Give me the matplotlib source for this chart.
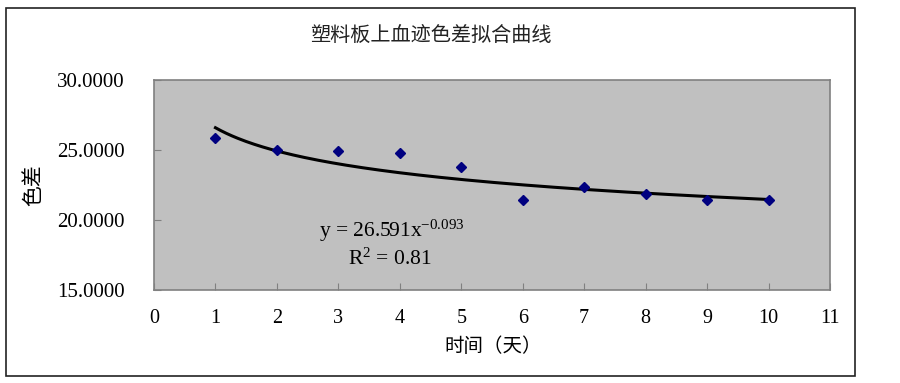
import numpy as np
import matplotlib
matplotlib.use('Agg')
import matplotlib.pyplot as plt
from matplotlib.patches import Rectangle
from matplotlib.ticker import FormatStrFormatter

# データ
days = [1, 2, 3, 4, 5, 6, 7, 8, 9, 10]
color_diff = [25.86, 25.0, 24.92, 24.82, 23.78, 21.42, 22.35, 21.86, 21.42, 21.42]
x_ticks = [0, 1, 2, 3, 4, 5, 6, 7, 8, 9, 10, 11]
y_ticks = [15, 20, 25, 30]

# トレンドライン (累乗近似) の係数
fit_a = 26.591
fit_b = -0.093
fit_r2 = 0.81

title = '塑料板上血迹色差拟合曲线'
xlabel = '时间（天）'
ylabel = '色差'

plt.rcParams['mathtext.fontset'] = 'custom'
plt.rcParams['mathtext.rm'] = 'Liberation Serif'
plt.rcParams['mathtext.it'] = 'Liberation Serif'

cjk = ['Noto Sans CJK SC', 'DejaVu Sans']
serif = 'Liberation Serif'
W, H = 900, 383


def main():
    fig = plt.figure(figsize=(W / 100, H / 100), dpi=100)
    ax = fig.add_axes([154 / W, 1 - 290 / H, 676 / W, 210 / H])
    ax.set_facecolor('#C0C0C0')

    # 外枠
    fig.patches.append(Rectangle((6 / W, 1 - 376 / H), 849 / W, 368 / H,
                                 transform=fig.transFigure, fill=False,
                                 edgecolor='#222222', linewidth=1.2))

    # 近似曲線
    xs = np.linspace(days[0], days[-1], 200)
    ax.plot(xs, fit_a * xs ** fit_b, color='black', linewidth=2.2, zorder=2)
    ax.plot(days, color_diff, linestyle='none', marker='D', markersize=5,
            color='#000080', zorder=3)

    ax.set_xlim(0, 11)
    ax.set_ylim(15, 30)
    ax.set_xticks(x_ticks)
    ax.set_yticks(y_ticks)
    ax.yaxis.set_major_formatter(FormatStrFormatter('%.4f'))
    ax.tick_params(direction='in', length=5, color='#808080', labelsize=14.5, pad=14)
    ax.tick_params(axis='y', labelsize=15, pad=21)
    for lab in ax.get_xticklabels() + ax.get_yticklabels():
        lab.set_fontfamily(serif)
    for s in ax.spines.values():
        s.set_color('#808080')
        s.set_linewidth(1.2)

    fig.text(431 / W, 1 - 35 / H, title, family=cjk, fontsize=14.5,
             ha='center', va='center', color='#222222')
    fig.text(493 / W, 1 - 347 / H, xlabel, family=cjk, fontsize=14,
             ha='center', va='center')
    fig.text(33 / W, 1 - 185 / H, ylabel, family=cjk, fontsize=15,
             ha='center', va='center', rotation=90)

    # 近似式
    fig.text(392 / W, 1 - 231 / H, 'y = %.3fx$^{\\mathrm{%.3f}}$' % (fit_a, fit_b),
             fontsize=15.5, family=serif, ha='center', va='center')
    fig.text(390 / W, 1 - 259 / H, 'R$^{\\mathrm{2}}$ = %.2f' % fit_r2,
             fontsize=15.5, family=serif, ha='center', va='center')

    fig.savefig('out.png', dpi=100)


if __name__ == '__main__':
    main()
